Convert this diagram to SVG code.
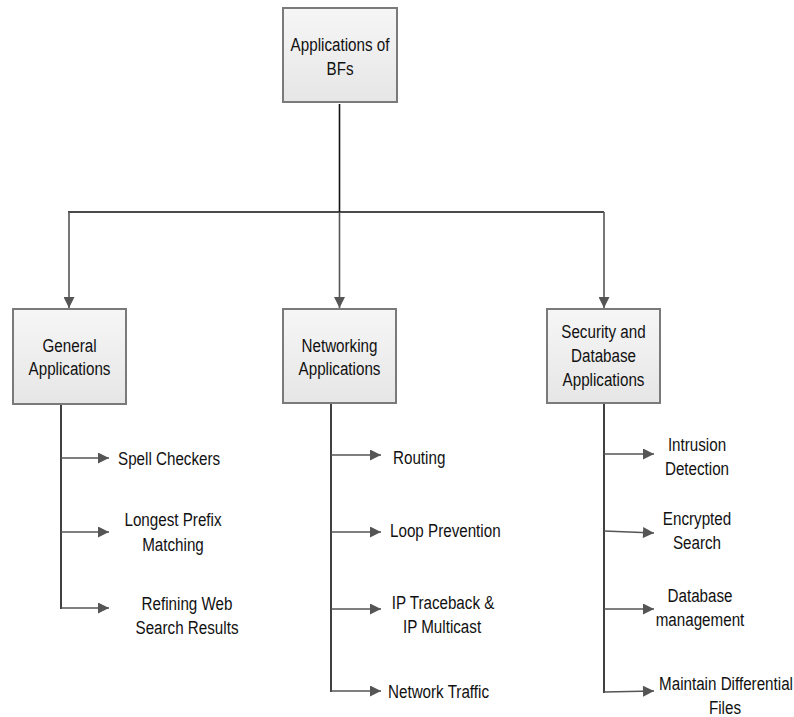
<svg xmlns="http://www.w3.org/2000/svg" width="794" height="717" viewBox="0 0 794 717">
  <style>
    .box { fill: url(#boxFill); stroke: #7a7a7a; stroke-width: 2; }
    .lbl { font-family: "Liberation Sans", Arial, sans-serif; font-size: 19px; fill: #111; }
    .mid { text-anchor: middle; }
    .trunk { fill: none; stroke: #111; stroke-width: 1.6; }
    .stem { fill: none; stroke: #555; stroke-width: 1.6; marker-end: url(#head); }
  </style>
  <defs>
    <linearGradient id="boxFill" x1="0" y1="0" x2="0" y2="1">
      <stop offset="0" stop-color="#f6f6f6"/>
      <stop offset="1" stop-color="#e6e6e6"/>
    </linearGradient>
    <marker id="head" viewBox="0 0 10 10" refX="10" refY="5" markerUnits="userSpaceOnUse" markerWidth="12" markerHeight="11" orient="auto">
      <path d="M0,0 L10,5 L0,10 Z" fill="#555"/>
    </marker>
  </defs>

  <!-- connectors -->
  <g id="connectors">
    <path class="trunk" d="M339.5,104 V212 M68,212 H604"/>
    <path class="stem" d="M69,212 V308"/>
    <path class="stem" d="M339.5,212 V308"/>
    <path class="stem" d="M604,212 V308"/>

    <path class="trunk" d="M61,404 V609"/>
    <path class="stem" d="M61,458 H109"/>
    <path class="stem" d="M61,532 H109"/>
    <path class="stem" d="M61,608 H109"/>

    <path class="trunk" d="M331,403 V692"/>
    <path class="stem" d="M331,455 H381"/>
    <path class="stem" d="M331,532 H381"/>
    <path class="stem" d="M331,609 H381"/>
    <path class="stem" d="M331,691 H381"/>

    <path class="trunk" d="M604,403 V693"/>
    <path class="stem" d="M604,454 H654"/>
    <path class="stem" d="M604,531 L654,533"/>
    <path class="stem" d="M604,609 H654"/>
    <path class="stem" d="M604,692 L654,691"/>
  </g>

  <!-- nodes (labels set in a narrowed sans: scale 0.8 horizontally) -->
  <g id="root">
    <rect class="box" x="283" y="8" width="114" height="94"/>
    <text class="lbl mid" transform="translate(340 51) scale(0.8 1)">Applications of</text>
    <text class="lbl mid" transform="translate(340 75) scale(0.8 1)">BFs</text>
  </g>

  <g id="general">
    <rect class="box" x="13" y="309" width="113" height="95"/>
    <text class="lbl mid" transform="translate(69.5 352) scale(0.8 1)">General</text>
    <text class="lbl mid" transform="translate(69.5 375) scale(0.8 1)">Applications</text>
  </g>

  <g id="networking">
    <rect class="box" x="283" y="309" width="113" height="94"/>
    <text class="lbl mid" transform="translate(339.5 352) scale(0.8 1)">Networking</text>
    <text class="lbl mid" transform="translate(339.5 375) scale(0.8 1)">Applications</text>
  </g>

  <g id="security">
    <rect class="box" x="547" y="309" width="113" height="94"/>
    <text class="lbl mid" transform="translate(603.5 338) scale(0.8 1)">Security and</text>
    <text class="lbl mid" transform="translate(603.5 362) scale(0.8 1)">Database</text>
    <text class="lbl mid" transform="translate(603.5 386) scale(0.8 1)">Applications</text>
  </g>

  <!-- general applications -->
  <g id="spell-checkers">
    <text class="lbl" transform="translate(118 465) scale(0.8 1)">Spell Checkers</text>
  </g>
  <g id="longest-prefix">
    <text class="lbl mid" transform="translate(173 526) scale(0.8 1)">Longest Prefix</text>
    <text class="lbl mid" transform="translate(173 551) scale(0.8 1)">Matching</text>
  </g>
  <g id="refining-web">
    <text class="lbl mid" transform="translate(187 610) scale(0.8 1)">Refining Web</text>
    <text class="lbl mid" transform="translate(187 634) scale(0.8 1)">Search Results</text>
  </g>

  <!-- networking applications -->
  <g id="routing">
    <text class="lbl" transform="translate(393 464) scale(0.8 1)">Routing</text>
  </g>
  <g id="loop-prevention">
    <text class="lbl" transform="translate(390 537) scale(0.8 1)">Loop Prevention</text>
  </g>
  <g id="ip-traceback">
    <text class="lbl mid" transform="translate(443 609) scale(0.8 1)">IP Traceback &amp;</text>
    <text class="lbl mid" transform="translate(442 633) scale(0.8 1)">IP Multicast</text>
  </g>
  <g id="network-traffic">
    <text class="lbl" transform="translate(388 698) scale(0.8 1)">Network Traffic</text>
  </g>

  <!-- security and database applications -->
  <g id="intrusion">
    <text class="lbl mid" transform="translate(697 451) scale(0.8 1)">Intrusion</text>
    <text class="lbl mid" transform="translate(697 475) scale(0.8 1)">Detection</text>
  </g>
  <g id="encrypted">
    <text class="lbl mid" transform="translate(697 525) scale(0.8 1)">Encrypted</text>
    <text class="lbl mid" transform="translate(697 549) scale(0.8 1)">Search</text>
  </g>
  <g id="database">
    <text class="lbl mid" transform="translate(700 602) scale(0.8 1)">Database</text>
    <text class="lbl mid" transform="translate(700 626) scale(0.8 1)">management</text>
  </g>
  <g id="differential">
    <text class="lbl mid" transform="translate(726 690) scale(0.8 1)">Maintain Differential</text>
    <text class="lbl mid" transform="translate(725 714) scale(0.8 1)">Files</text>
  </g>
</svg>
